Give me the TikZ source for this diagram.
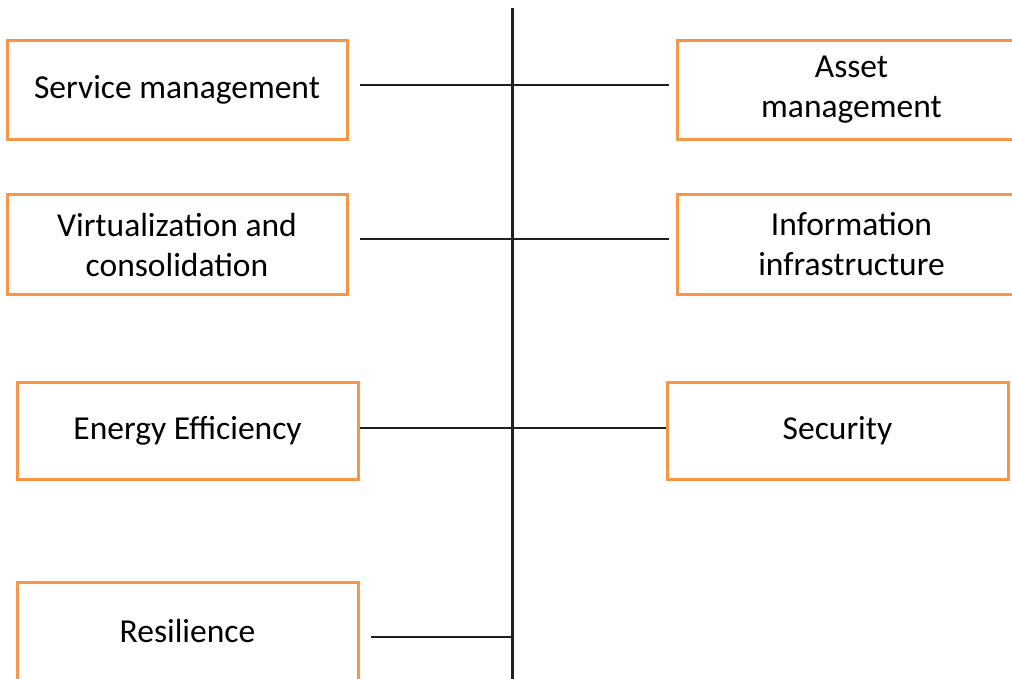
\documentclass[tikz,border=0pt]{standalone}
\usepackage{fontspec}
\setmainfont{Carlito}
\definecolor{boxorange}{HTML}{F79646}
\definecolor{linegray}{HTML}{202020}
\begin{document}
\begin{tikzpicture}[x=1pt,y=-1pt,
  topic/.style={draw=boxorange, line width=3pt, fill=white, rectangle, inner sep=0pt,
    align=center, font=\fontsize{33.5}{40}\selectfont, text=black},
  conn/.style={draw=linegray, line width=2.2pt}]
\useasboundingbox (0,0) rectangle (1012,679);
\clip (0,0) rectangle (1012,679);
% nodes
\node[topic, minimum width=340pt, minimum height=99pt] (sm) at (177,90) {Service management};
\node[topic, minimum width=349pt, minimum height=99pt] (am) at (851.5,90) {Asset\\management};
\node[topic, minimum width=340pt, minimum height=100pt] (vc) at (177,244.5) {Virtualization and\\consolidation};
\node[topic, minimum width=349pt, minimum height=100pt] (ii) at (851.5,244.5) {Information\\infrastructure};
\node[topic, minimum width=341pt, minimum height=97pt] (ee) at (187.5,431) {Energy Efficiency};
\node[topic, minimum width=341pt, minimum height=97pt] (se) at (837.5,431) {Security};
\node[topic, minimum width=341pt, minimum height=98pt] (re) at (187.5,631) {Resilience};
% connector ends
\coordinate (top) at (512.5,8);
\coordinate (bot) at (512.5,679);
\coordinate (a1) at (360,85);
\coordinate (b1) at (669,85);
\coordinate (a2) at (360,239);
\coordinate (b2) at (669,239);
\coordinate (a3) at (ee.east |- 0,428);
\coordinate (b3) at (se.west |- 0,428);
\coordinate (a4) at (371,637);
\coordinate (b4) at (512.5,637);
% connectors
\draw[conn] (top) -- (bot);
\draw[conn] (a1) -- (b1);
\draw[conn] (a2) -- (b2);
\draw[conn] (a3) -- (b3);
\draw[conn] (a4) -- (b4);
\end{tikzpicture}
\end{document}
